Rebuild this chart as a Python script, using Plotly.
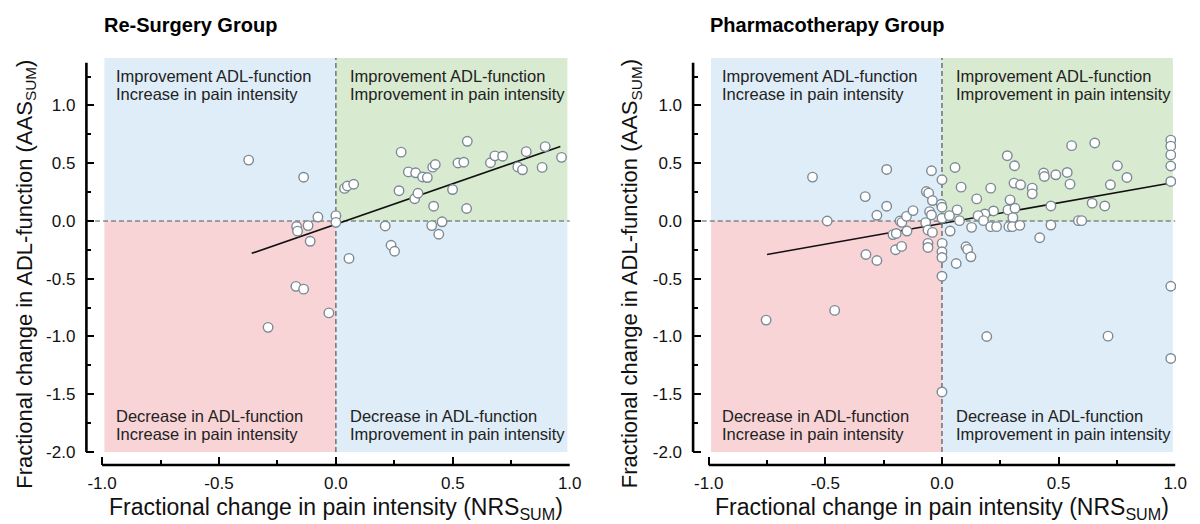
import plotly.graph_objects as go

# ---------------- data ----------------
panel_titles = ["Re-Surgery Group", "Pharmacotherapy Group"]
x_title = "Fractional change in pain intensity (NRS<sub>SUM</sub>)"
y_title = "Fractional change in ADL-function (AAS<sub>SUM</sub>)"

x_tick_vals = [-1.0, -0.5, 0.0, 0.5, 1.0]
x_tick_labels = ["-1.0", "-0.5", "0.0", "0.5", "1.0"]
y_tick_vals = [-2.0, -1.5, -1.0, -0.5, 0.0, 0.5, 1.0]
y_tick_labels = ["-2.0", "-1.5", "-1.0", "-0.5", "0.0", "0.5", "1.0"]

quadrant_top_left = ["Improvement ADL-function", "Increase in pain intensity"]
quadrant_top_right = ["Improvement ADL-function", "Improvement in pain intensity"]
quadrant_bottom_left = ["Decrease in ADL-function", "Increase in pain intensity"]
quadrant_bottom_right = ["Decrease in ADL-function", "Improvement in pain intensity"]

# Re-Surgery group
rs_x = [-0.373, -0.138, -0.077, 0.0, 0.0, -0.168, -0.164, -0.119, -0.110, -0.171,
        -0.138, -0.030, -0.290, 0.056, 0.037, 0.049, 0.076, 0.211, 0.236, 0.251,
        0.279, 0.270, 0.310, 0.341, 0.371, 0.391, 0.337, 0.351, 0.414, 0.425,
        0.418, 0.410, 0.454, 0.440, 0.499, 0.522, 0.547, 0.562, 0.559, 0.661,
        0.680, 0.713, 0.778, 0.798, 0.814, 0.882, 0.895, 0.965]
rs_y = [0.527, 0.379, 0.034, 0.046, -0.012, -0.048, -0.088, -0.040, -0.176, -0.566,
        -0.590, -0.796, -0.921, -0.324, 0.282, 0.303, 0.318, -0.043, -0.210, -0.262,
        0.596, 0.262, 0.425, 0.417, 0.381, 0.376, 0.193, 0.240, 0.466, 0.489,
        0.128, -0.040, -0.007, -0.115, 0.272, 0.502, 0.509, 0.690, 0.108, 0.504,
        0.564, 0.561, 0.468, 0.443, 0.600, 0.464, 0.644, 0.551]
rs_fit_x = [-0.36, 0.96]
rs_fit_y = [-0.28, 0.645]

# Pharmacotherapy group
ph_x = [-0.754, -0.555, -0.492, -0.460, -0.329, -0.326, -0.279, -0.279, -0.237, -0.237,
        -0.210, -0.196, -0.199, -0.173, -0.180, -0.172, -0.152, -0.150, -0.124, -0.045,
        0.056, 0.000, 0.082, -0.067, -0.057, -0.041, -0.003, 0.000, -0.053, -0.045,
        0.065, 0.000, 0.032, 0.075, -0.070, -0.060, -0.041, 0.035, -0.060, -0.060,
        0.001, 0.000, 0.000, 0.103, 0.110, 0.124, 0.061, 0.000, 0.000, 0.280,
        0.311, 0.309, 0.337, 0.387, 0.387, 0.209, 0.149, 0.292, 0.283, 0.313,
        0.304, 0.221, 0.184, 0.155, 0.178, 0.209, 0.234, 0.287, 0.302, 0.334,
        0.127, 0.419, 0.467, 0.467, 0.436, 0.439, 0.488, 0.537, 0.549, 0.556,
        0.655, 0.585, 0.599, 0.644, 0.698, 0.722, 0.752, 0.793, 0.981, 0.981,
        0.981, 0.981, 0.981, 0.981, 0.981, 0.712, 0.192]
ph_y = [-0.858, 0.380, 0.000, -0.774, 0.211, -0.290, 0.049, -0.342, 0.446, 0.128,
        -0.118, -0.108, -0.249, -0.220, 0.000, -0.012, 0.040, -0.087, 0.090, 0.435,
        0.463, 0.357, 0.293, 0.255, 0.241, 0.177, 0.145, 0.119, 0.081, 0.052,
        0.096, 0.023, 0.046, 0.003, -0.014, -0.078, -0.099, -0.087, -0.194, -0.229,
        -0.194, -0.267, -0.316, -0.223, -0.246, -0.310, -0.368, -0.478, -1.480, 0.565,
        0.478, 0.328, 0.313, 0.284, 0.235, 0.284, 0.191, 0.183, 0.096, 0.110,
        0.029, 0.087, 0.061, 0.046, 0.003, -0.049, -0.049, -0.049, -0.049, -0.038,
        -0.055, -0.145, 0.130, -0.035, 0.415, 0.385, 0.400, 0.420, 0.319, 0.652,
        0.675, 0.003, 0.003, 0.154, 0.130, 0.313, 0.478, 0.377, 0.700, 0.648,
        0.572, 0.476, 0.342, -0.565, -1.190, -0.997, -1.000]
ph_fit_x = [-0.75, 0.975]
ph_fit_y = [-0.29, 0.327]

# ---------------- layout geometry / style ----------------
FONT = "Liberation Sans, Arial, Helvetica, sans-serif"
W, H = 1200, 524
X_RANGE = [-1.067, 1.003]
Y_RANGE = [-2.113, 1.41]
X_DOMAINS = [[0.07267, 0.47975], [0.58292, 0.98900]]
Y_DOMAIN = [0.1125, 0.8891]

BLUE = "#deedf8"
GREEN = "#d8ead0"
PINK = "#f8d4d7"
SHADE_X = [-0.99, 0.99]
SHADE_Y = [-2.0, 1.41]

fig = go.Figure()


def px(v, dom):
    return dom[0] + (v - X_RANGE[0]) / (X_RANGE[1] - X_RANGE[0]) * (dom[1] - dom[0])


def py(v):
    return Y_DOMAIN[0] + (v - Y_RANGE[0]) / (Y_RANGE[1] - Y_RANGE[0]) * (Y_DOMAIN[1] - Y_DOMAIN[0])


panels = [(rs_x, rs_y, rs_fit_x, rs_fit_y), (ph_x, ph_y, ph_fit_x, ph_fit_y)]
shapes = []
annotations = []

for i, (sx, sy, fx, fy) in enumerate(panels):
    suffix = "" if i == 0 else str(i + 1)
    xref, yref = "x" + suffix, "y" + suffix
    dom = X_DOMAINS[i]

    # regression line
    fig.add_trace(go.Scatter(x=fx, y=fy, mode="lines", xaxis=xref, yaxis=yref,
                             line=dict(color="#111111", width=1.6), showlegend=False,
                             hoverinfo="skip"))
    # points
    fig.add_trace(go.Scatter(x=sx, y=sy, mode="markers", xaxis=xref, yaxis=yref,
                             marker=dict(size=9.5, color="white",
                                         line=dict(color="#7b8a95", width=1.4)),
                             showlegend=False))

    # quadrant shading
    for (x0, x1, y0, y1, c) in [(SHADE_X[0], 0, 0, SHADE_Y[1], BLUE),
                                (0, SHADE_X[1], 0, SHADE_Y[1], GREEN),
                                (SHADE_X[0], 0, SHADE_Y[0], 0, PINK),
                                (0, SHADE_X[1], SHADE_Y[0], 0, BLUE)]:
        shapes.append(dict(type="rect", xref=xref, yref=yref, x0=x0, x1=x1, y0=y0, y1=y1,
                           fillcolor=c, line=dict(width=0), layer="below"))
    # dashed zero lines
    shapes.append(dict(type="line", xref=xref, yref=yref, x0=0, x1=0, y0=-2.0, y1=1.41,
                       line=dict(color="#555555", width=1.2, dash="5px,3px"), layer="below"))
    shapes.append(dict(type="line", xref=xref, yref=yref, x0=-1.03, x1=1.0, y0=0, y1=0,
                       line=dict(color="#555555", width=1.2, dash="5px,3px"), layer="below"))
    # offset axis lines (paper coordinates)
    shapes.append(dict(type="line", xref="paper", yref="paper", x0=dom[0], x1=dom[0],
                       y0=py(-2.0), y1=py(1.37), line=dict(color="black", width=2.6)))
    shapes.append(dict(type="line", xref="paper", yref="paper", x0=px(-1.0, dom), x1=px(1.0, dom),
                       y0=Y_DOMAIN[0], y1=Y_DOMAIN[0], line=dict(color="black", width=2.6)))

    # quadrant labels
    for (xx, yy, lines) in [(-0.951, 1.256, quadrant_top_left), (0.052, 1.256, quadrant_top_right),
                            (-0.951, -1.686, quadrant_bottom_left), (0.052, -1.686, quadrant_bottom_right)]:
        for k, t in enumerate(lines):
            annotations.append(dict(x=xx, y=yy - 0.16 * k, xref=xref, yref=yref, text=t,
                                    showarrow=False, xanchor="left", yanchor="middle",
                                    font=dict(family=FONT, size=16.5, color="#222222")))

    # panel title
    annotations.append(dict(x=[103, 715][i] / W, y=1 - 25 / H, xref="paper", yref="paper",
                            text="<b>" + panel_titles[i] + "</b>", showarrow=False,
                            xanchor="left", yanchor="middle",
                            font=dict(family=FONT, size=20, color="black")))
    # axis titles
    annotations.append(dict(x=[339, 951][i] / W, y=1 - 508 / H, xref="paper", yref="paper",
                            text=x_title, showarrow=False, xanchor="center", yanchor="middle",
                            font=dict(family=FONT, size=23, color="#111111")))
    annotations.append(dict(x=[26, 637][i] / W, y=1 - 274 / H, xref="paper", yref="paper",
                            text=y_title, showarrow=False, xanchor="center", yanchor="middle",
                            textangle=-90, font=dict(family=FONT, size=22, color="#111111")))

axis_common = dict(showgrid=False, zeroline=False, showline=False, ticks="inside",
                   tickcolor="black", tickwidth=2, ticklen=8,
                   tickfont=dict(family=FONT, size=17, color="#111111"))

layout_axes = {}
for i in range(2):
    suffix = "" if i == 0 else str(i + 1)
    layout_axes["xaxis" + suffix] = dict(
        axis_common, domain=X_DOMAINS[i], range=X_RANGE, anchor="y" + suffix,
        tickmode="array", tickvals=x_tick_vals, ticktext=x_tick_labels,
        ticklabelstandoff=6,
        minor=dict(tickmode="linear", tick0=0, dtick=0.25, ticks="inside",
                   ticklen=5, tickwidth=1.6, tickcolor="black"))
    layout_axes["yaxis" + suffix] = dict(
        axis_common, domain=Y_DOMAIN, range=Y_RANGE, anchor="x" + suffix,
        tickmode="array", tickvals=y_tick_vals, ticktext=y_tick_labels,
        ticklabelstandoff=10,
        minor=dict(tickmode="linear", tick0=0, dtick=0.25, ticks="inside",
                   ticklen=5, tickwidth=1.6, tickcolor="black"))

fig.update_layout(
    width=W, height=H,
    margin=dict(l=0, r=0, t=0, b=0),
    paper_bgcolor="white", plot_bgcolor="rgba(0,0,0,0)",
    shapes=shapes, annotations=annotations,
    showlegend=False,
    **layout_axes,
)

# remove the default 8px page margin so the figure fills the 1200x524 window exactly
fig.write_html("out.html",
               config={"displayModeBar": False},
               post_script="document.body.style.margin='0';document.body.style.overflow='hidden';")
